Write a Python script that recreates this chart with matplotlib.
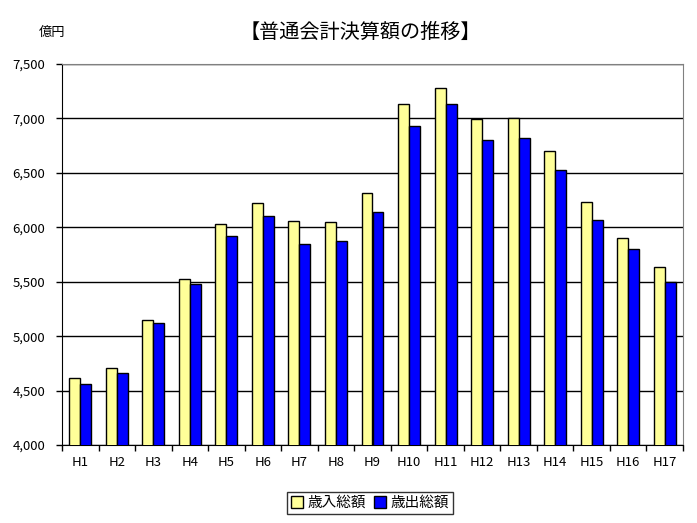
import matplotlib.pyplot as plt
import numpy as np

plt.rcParams['font.family'] = ['Noto Sans CJK JP', 'DejaVu Sans']

years = ['H1', 'H2', 'H3', 'H4', 'H5', 'H6', 'H7', 'H8', 'H9',
         'H10', 'H11', 'H12', 'H13', 'H14', 'H15', 'H16', 'H17']
revenue = [4620, 4704, 5145, 5527, 6027, 6220, 6054, 6045, 6311,
           7128, 7284, 6994, 7000, 6700, 6229, 5898, 5632]
expenditure = [4562, 4658, 5117, 5476, 5919, 6100, 5843, 5870, 6137,
               6926, 7137, 6798, 6816, 6525, 6064, 5797, 5499]

fig = plt.figure(figsize=(6.97, 5.23), dpi=100)
ax = fig.add_axes([62/697, 1-445/523, 621/697, 381/523])

x = np.arange(len(years))
w = 0.30
ax.bar(x - w/2, revenue, w, color='#FFFF99', edgecolor='black', linewidth=1,
       label='歳入総額', zorder=3)
ax.bar(x + w/2, expenditure, w, color='#0000FF', edgecolor='black', linewidth=1,
       label='歳出総額', zorder=3)

ax.set_xlim(-0.5, len(years) - 0.5)
ax.set_ylim(4000, 7500)
ax.set_yticks(np.arange(4000, 7501, 500))
ax.set_yticklabels([f'{v:,}' for v in range(4000, 7501, 500)], fontsize=9.5)
ax.yaxis.grid(True, color='black', linewidth=1)
ax.set_axisbelow(True)

ax.set_xticks(x)
ax.set_xticklabels(years, fontsize=9.5)
ax.tick_params(axis='x', length=0, pad=8)
ax.set_xticks(np.arange(-0.5, len(years)), minor=True)
ax.tick_params(axis='x', which='minor', length=4, direction='out', width=1)
ax.tick_params(axis='y', length=4, width=1, pad=8)

for s in ['top', 'right']:
    ax.spines[s].set_color('#808080')
for s in ['left', 'bottom']:
    ax.spines[s].set_color('black')

fig.text(360/697, 1-32/523, '【普通会計決算額の推移】', fontsize=14.5,
         ha='center', va='center')
fig.text(52/697, 1-32/523, '億円', fontsize=9.5, ha='center', va='center')

leg = fig.legend(loc='center', bbox_to_anchor=(370/697, 1-503/523), ncol=2,
                 fontsize=10.5, frameon=True, fancybox=False, edgecolor='black',
                 handlelength=0.8, handleheight=0.8, handletextpad=0.3,
                 columnspacing=0.6, borderpad=0.3)
leg.get_frame().set_linewidth(1)

fig.savefig('out.png', dpi=100)
